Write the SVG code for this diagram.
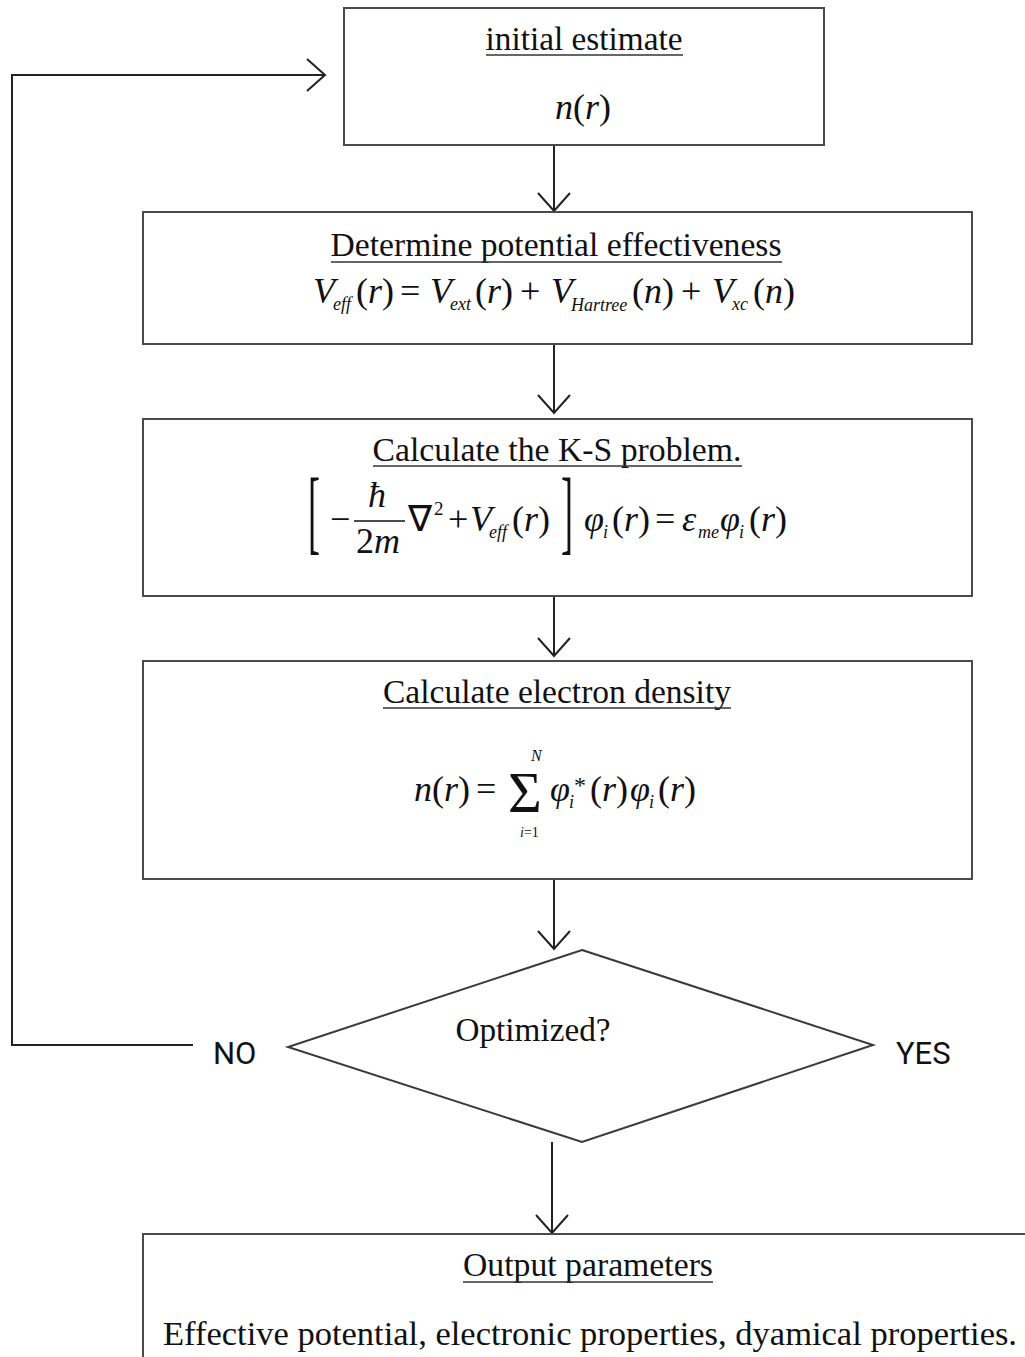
<svg xmlns="http://www.w3.org/2000/svg" width="1025" height="1357" viewBox="0 0 1025 1357">
<defs>
<style>
.box{fill:#fff;stroke:#4a4a4a;stroke-width:2}
.dia{fill:#fff;stroke:#3a3a3a;stroke-width:2}
.ln{fill:none;stroke:#222;stroke-width:2}
.ul{stroke:#333;stroke-width:1.5}
.h{font-family:"Liberation Serif","Times New Roman",serif;font-size:33px;fill:#111}
.f{font-family:"Liberation Serif","Times New Roman",serif;font-size:36px;fill:#111}
.i{font-style:italic}
.s{font-family:"Liberation Serif","Times New Roman",serif;font-size:18px;font-style:italic;fill:#111}
.lab{font-family:Roboto,"Liberation Sans",sans-serif;font-size:31px;fill:#111}
</style>
<marker id="ah" markerUnits="userSpaceOnUse" markerWidth="40" markerHeight="40" viewBox="-20 -20 40 40" refX="0" refY="0" orient="auto">
<path d="M-18,-16 L0,0 L-18,16" fill="none" stroke="#222" stroke-width="2"/>
</marker>
</defs>
<rect width="1025" height="1357" fill="#fff"/>

<g id="connectors">
<polyline class="ln" points="193,1045 12,1045 12,75 325,75" marker-end="url(#ah)"/>
<line class="ln" x1="554" y1="145" x2="554" y2="211" marker-end="url(#ah)"/>
<line class="ln" x1="554" y1="344" x2="554" y2="413" marker-end="url(#ah)"/>
<line class="ln" x1="554" y1="596" x2="554" y2="656" marker-end="url(#ah)"/>
<line class="ln" x1="554" y1="879" x2="554" y2="949" marker-end="url(#ah)"/>
<line class="ln" x1="552" y1="1142" x2="552" y2="1233" marker-end="url(#ah)"/>
</g>

<g id="initial-estimate">
<rect class="box" x="344" y="8" width="480" height="137"/>
<text class="h" x="584" y="50" text-anchor="middle" textLength="197" lengthAdjust="spacingAndGlyphs">initial estimate</text>
<line class="ul" x1="486" y1="55" x2="683" y2="55"/>
<text class="f" x="583" y="119" text-anchor="middle"><tspan class="i">n</tspan>(<tspan class="i">r</tspan>)</text>
</g>

<g id="determine-potential">
<rect class="box" x="143" y="212" width="829" height="132"/>
<text class="h" x="556" y="256" text-anchor="middle" textLength="451" lengthAdjust="spacingAndGlyphs">Determine potential effectiveness</text>
<line class="ul" x1="331" y1="262" x2="782" y2="262"/>
<text class="f i" x="313" y="303">V</text>
<text class="s" x="333" y="310">eff</text>
<text class="f" x="356" y="303">(<tspan class="i">r</tspan>)</text>
<text class="f" x="400" y="303">=</text>
<text class="f i" x="430" y="303">V</text>
<text class="s" x="450" y="310">ext</text>
<text class="f" x="475" y="303">(<tspan class="i">r</tspan>)</text>
<text class="f" x="520" y="303">+</text>
<text class="f i" x="551" y="303">V</text>
<text class="s" x="571" y="311">Hartree</text>
<text class="f" x="632" y="303">(<tspan class="i">n</tspan>)</text>
<text class="f" x="681" y="303">+</text>
<text class="f i" x="712" y="303">V</text>
<text class="s" x="732" y="310">xc</text>
<text class="f" x="753" y="303">(<tspan class="i">n</tspan>)</text>
</g>

<g id="calculate-ks">
<rect class="box" x="143" y="419" width="829" height="177"/>
<text class="h" x="557" y="461" text-anchor="middle" textLength="369" lengthAdjust="spacingAndGlyphs">Calculate the K-S problem.</text>
<line class="ul" x1="373" y1="466" x2="742" y2="466"/>
<text class="f" transform="translate(308,543) scale(1,2.6)" x="0" y="0">[</text>
<text class="f" x="330" y="531">−</text>
<text class="f i" x="368" y="507">ħ</text>
<line x1="354" y1="521" x2="405" y2="521" stroke="#111" stroke-width="1.6"/>
<text class="f" x="356" y="553">2<tspan class="i">m</tspan></text>
<text class="f" x="408" y="531">∇</text>
<text class="f" x="434" y="515" style="font-size:19px">2</text>
<text class="f" x="448" y="531">+</text>
<text class="f i" x="470" y="531">V</text>
<text class="s" x="489" y="538">eff</text>
<text class="f" x="512" y="531">(<tspan class="i">r</tspan>)</text>
<text class="f" transform="translate(561,543) scale(1,2.6)" x="0" y="0">]</text>
<text class="f i" x="584" y="531">φ</text>
<text class="s" x="603" y="538">i</text>
<text class="f" x="612" y="531">(<tspan class="i">r</tspan>)</text>
<text class="f" x="655" y="531">=</text>
<text class="f i" x="682" y="531">ε</text>
<text class="s" x="698" y="538">me</text>
<text class="f i" x="720" y="531">φ</text>
<text class="s" x="739" y="538">i</text>
<text class="f" x="749" y="531">(<tspan class="i">r</tspan>)</text>
</g>

<g id="electron-density">
<rect class="box" x="143" y="661" width="829" height="218"/>
<text class="h" x="557" y="703" text-anchor="middle" textLength="348" lengthAdjust="spacingAndGlyphs">Calculate electron density</text>
<line class="ul" x1="383" y1="708" x2="731" y2="708"/>
<text class="f" x="414" y="801"><tspan class="i">n</tspan>(<tspan class="i">r</tspan>)</text>
<text class="f" x="476" y="801">=</text>
<text class="f" x="508" y="812" style="font-size:58px">Σ</text>
<text class="s" x="531" y="761" style="font-size:16px">N</text>
<text class="s" x="520" y="837" style="font-size:14px">i<tspan font-style="normal">=1</tspan></text>
<text class="f i" x="550" y="801">φ</text>
<text class="s" x="569" y="808">i</text>
<text class="f" x="574" y="793" style="font-size:24px">*</text>
<text class="f" x="590" y="801">(<tspan class="i">r</tspan>)</text>
<text class="f i" x="630" y="801">φ</text>
<text class="s" x="649" y="808">i</text>
<text class="f" x="658" y="801">(<tspan class="i">r</tspan>)</text>
</g>

<g id="optimized">
<polygon class="dia" points="582,950 873,1045 582,1142 288,1047"/>
<text class="h" x="533" y="1041" text-anchor="middle" textLength="155" lengthAdjust="spacingAndGlyphs">Optimized?</text>
</g>

<g id="labels">
<text class="lab" x="213" y="1064">NO</text>
<text class="lab" x="896" y="1064">YES</text>
</g>

<g id="output">
<rect class="box" x="143" y="1234" width="900" height="200"/>
<text class="h" x="588" y="1276" text-anchor="middle" textLength="250" lengthAdjust="spacingAndGlyphs">Output parameters</text>
<line class="ul" x1="463" y1="1282" x2="713" y2="1282"/>
<text class="h" x="163" y="1345" textLength="854" lengthAdjust="spacingAndGlyphs">Effective potential, electronic properties, dyamical properties.</text>
</g>
</svg>
